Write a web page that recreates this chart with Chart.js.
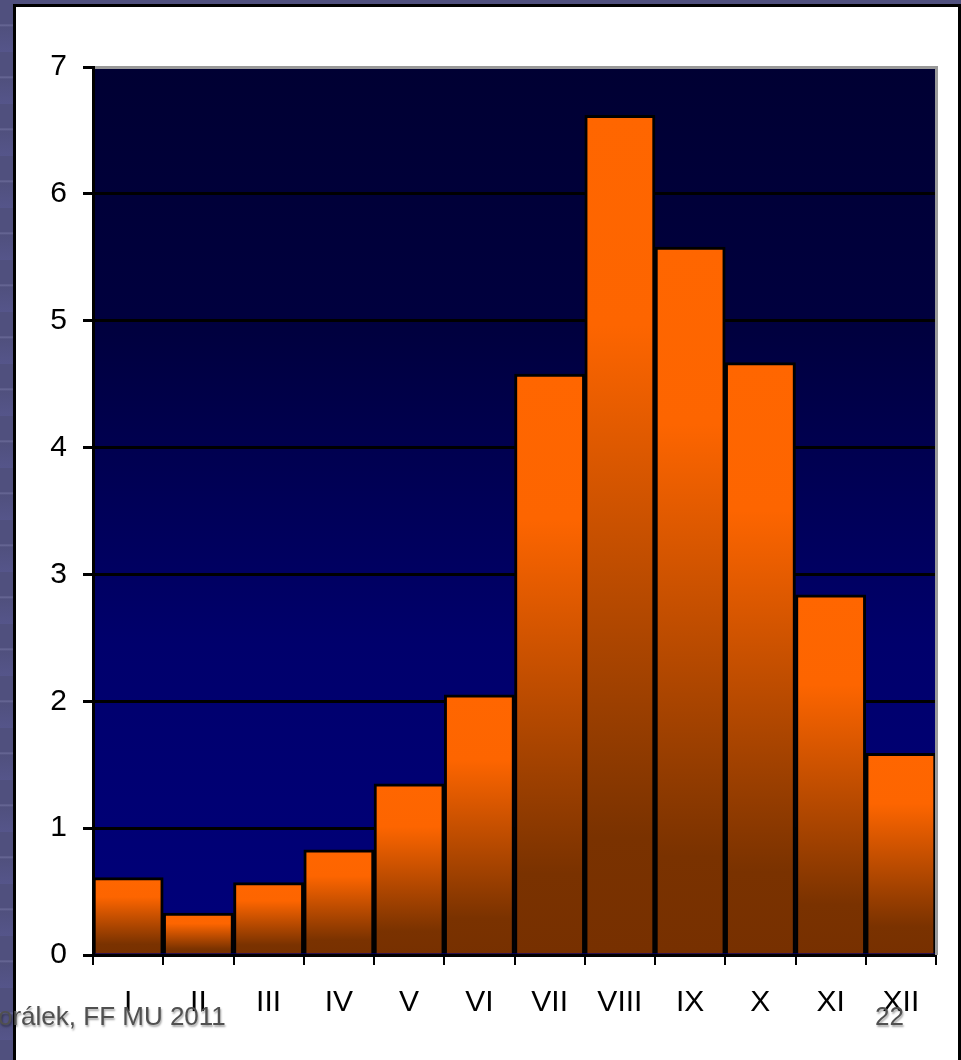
<!DOCTYPE html>
<html>
<head>
<meta charset="utf-8">
<title>Chart</title>
<script src="https://cdn.jsdelivr.net/npm/chart.js@4/dist/chart.umd.min.js"></script>
<style>
  html, body {
    margin: 0;
    padding: 0;
    width: 961px;
    height: 1060px;
    overflow: hidden;
  }
  body {
    position: relative;
    background: repeating-linear-gradient(180deg, #50507e 0px, #50507e 24px, #6a6a98 25px, #50507e 27px, #55558a 52px);
  }
  #panel {
    position: absolute;
    left: 13px;
    top: 4px;
    width: 942px;
    height: 1080px;
    background: #fff;
    border: 3px solid #000;
  }
  #wrap {
    position: absolute;
    left: 0;
    top: 0;
    width: 961px;
    height: 1060px;
  }
  .footer {
    position: absolute;
    font-family: "Liberation Sans", Arial, sans-serif;
    font-size: 26px;
    color: #505050;
    text-shadow: 1px 2px 2px rgba(0, 0, 0, 0.35);
    white-space: nowrap;
  }
</style>
</head>
<body>
<div id="panel"></div>
<div id="wrap"><canvas id="barChart" width="961" height="1060"></canvas></div>
<div class="footer" id="author" style="left:-2px; top:1001px;">orálek, FF MU 2011</div>
<div class="footer" id="page" style="left:875px; top:1001px;">22</div>

<script>
// months as roman numerals
const months = ["I", "II", "III", "IV", "V", "VI", "VII", "VIII", "IX", "X", "XI", "XII"];
// values
const values = [0.61, 0.33, 0.57, 0.83, 1.35, 2.05, 4.58, 6.62, 5.58, 4.67, 2.84, 1.59];
const yTicks = [0, 1, 2, 3, 4, 5, 6, 7];

const yFont = { family: "'Liberation Sans', Arial, sans-serif", size: 30 };
const xFont = { family: "'Liberation Sans Narrow', 'Arial Narrow', 'Liberation Sans', sans-serif", size: 30 };

/* orange to brown fade, one per bar */
function barFill(ctx) {
  const chart = ctx.chart;
  const y = chart.scales.y;
  if (!chart.chartArea || !y || ctx.raw === undefined) {
    return "#ff6600";
  }
  const top = y.getPixelForValue(ctx.raw);
  const bottom = y.getPixelForValue(0);
  const g = chart.ctx.createLinearGradient(0, top, 0, bottom);
  g.addColorStop(0, "#ff6600");
  g.addColorStop(0.25, "#fd6500");
  g.addColorStop(0.86, "#7a3200");
  g.addColorStop(1, "#773000");
  return g;
}

/* dark navy plot background + gray right edge */
const plotBack = {
  id: "plotBack",
  beforeDraw(chart) {
    const a = chart.chartArea;
    const c = chart.ctx;
    const g = c.createLinearGradient(0, a.top, 0, a.bottom);
    g.addColorStop(0, "#000033");
    g.addColorStop(0.3, "#00003f");
    g.addColorStop(0.65, "#00006c");
    g.addColorStop(1, "#00007a");
    c.save();
    c.fillStyle = g;
    c.fillRect(a.left, a.top, a.right - a.left, a.bottom - a.top);
    c.restore();
  },
  afterDatasetsDraw(chart) {
    const a = chart.chartArea;
    const c = chart.ctx;
    c.save();
    c.strokeStyle = "#999";
    c.lineWidth = 3;
    c.beginPath();
    c.moveTo(a.right + 0.5, a.top - 1);
    c.lineTo(a.right + 0.5, a.bottom);
    c.stroke();
    c.restore();
  },
};

const config = {
  type: "bar",
  data: {
    labels: months,
    datasets: [
      {
        data: values,
        backgroundColor: barFill,
        borderColor: "#000",
        borderWidth: 3,
        borderSkipped: "bottom",
        barPercentage: 1,
        categoryPercentage: 1,
      },
    ],
  },
  options: {
    responsive: false,
    animation: false,
    layout: { padding: { left: 0, top: 67, right: 25, bottom: 0 } },
    plugins: {
      legend: { display: false },
      tooltip: { enabled: false },
    },
    scales: {
      x: {
        offset: true,
        grid: {
          offset: true,
          drawOnChartArea: false,
          color: "#000",
          lineWidth: 2,
          tickLength: 10,
        },
        border: { color: "#000", width: 3 },
        ticks: { color: "#000", font: xFont, padding: 20, maxRotation: 0 },
        afterFit: (scale) => {
          scale.height = 105;
        },
      },
      y: {
        min: 0,
        max: 7,
        afterBuildTicks: (scale) => {
          scale.ticks = yTicks.map((v) => ({ value: v }));
        },
        grid: {
          color: (ctx) => (ctx.tick && ctx.tick.value === 7 ? "#999" : "#000"),
          tickColor: "#000",
          lineWidth: 3,
          tickLength: 10,
        },
        border: { color: "#000", width: 3 },
        ticks: { color: "#000", font: yFont, padding: 16 },
        afterFit: (scale) => {
          scale.width = 93;
        },
      },
    },
  },
  plugins: [plotBack],
};

var grapharea = document.getElementById("barChart").getContext("2d");
var barChart = new Chart(grapharea, config);
</script>
</body>
</html>
